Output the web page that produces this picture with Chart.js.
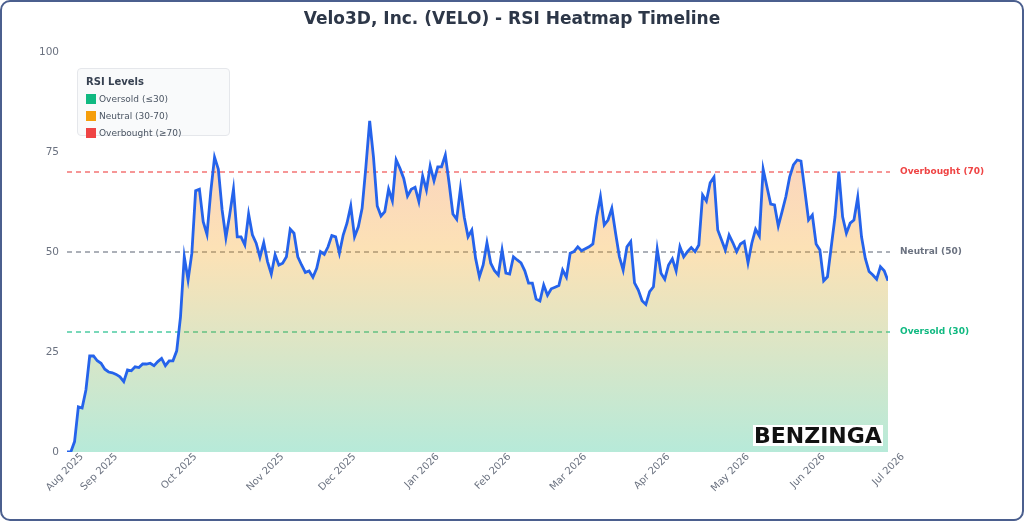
<!DOCTYPE html>
<html>
<head>
<meta charset="utf-8">
<script src="https://cdn.jsdelivr.net/npm/chart.js@4.4.1/dist/chart.umd.min.js"></script>
<style>
  html, body { margin: 0; padding: 0; background: #fff; }
  #frame {
    position: absolute; left: 0; top: 0; width: 1024px; height: 521px;
    box-sizing: border-box; border: 2px solid #4b5f8e; border-radius: 10px;
    pointer-events: none;
  }
  #wrap { position: absolute; left: 0; top: 0; width: 1024px; height: 521px; }
  #rsiLegend {
    position: absolute; left: 77px; top: 68px; width: 153px; height: 68px;
    box-sizing: border-box; background: #f9fafb; border: 1px solid #e5e7eb;
    border-radius: 4px; font-family: "DejaVu Sans", sans-serif;
  }
  #rsiLegend .ttl { position: absolute; left: 8px; top: 7px; font-size: 10px; font-weight: bold; color: #374151; }
  #rsiLegend .item { position: absolute; left: 8px; font-size: 9px; color: #4b5563; line-height: 10px; white-space: nowrap; }
  #rsiLegend .sw { display: inline-block; width: 10px; height: 10px; vertical-align: top; margin-right: 3px; }
  #logo {
    position: absolute; left: 753px; top: 425px; background: #fff;
    font-family: "DejaVu Sans", sans-serif; font-weight: bold; font-size: 22px;
    line-height: 21px; color: #111; padding: 0 1px; letter-spacing: 0px;
  }
</style>
</head>
<body>
<div id="wrap"><canvas id="rsiChart" width="1024" height="521"></canvas></div>
<div id="rsiLegend">
  <div class="ttl">RSI Levels</div>
  <div class="item" style="top:25px"><span class="sw" style="background:#10b981"></span>Oversold (≤30)</div>
  <div class="item" style="top:42px"><span class="sw" style="background:#f59e0b"></span>Neutral (30-70)</div>
  <div class="item" style="top:59px"><span class="sw" style="background:#ef4444"></span>Overbought (≥70)</div>
</div>
<div id="logo">BENZINGA</div>
<div id="frame"></div>
<script>
// RSI per trading day, Aug 2025 -> Jul 2026
const rsiValues = [
  0, 0, 2.6, 11.3, 11, 15.5, 24, 24, 22.8, 22.2, 20.7, 20, 19.8, 19.4, 18.8, 17.6, 20.5, 20.3, 21.3, 21.1,
  22, 22, 22.2, 21.6, 22.6, 23.4, 21.6, 22.8, 22.8, 25.3, 33.8, 48.8, 43, 49.7, 65.3, 65.7, 57.6, 54.4, 65.1, 73.7,
  70.7, 60.5, 53.6, 59.3, 65.7, 53.8, 53.8, 51.8, 59.5, 54.3, 52.2, 48.7, 52.3, 47.6, 44.5, 49.3, 46.75,
  47.2, 48.8, 55.7, 54.7, 48.8, 46.75, 44.9, 45.25, 43.7, 45.9, 50.1, 49.4, 51.3, 54.1, 53.8, 49.7, 54.25, 57.2,
  61.5, 53.8, 56.3, 60.9, 71.3, 82.8, 73.8, 61.5, 59, 60.1, 65.7, 62.8, 73, 70.9, 68.4, 64, 65.7, 66.2, 62.6, 69,
  65.5, 71.5, 67.8, 71.3, 71.3, 74.25, 67.2, 59.5, 58.2, 65.9, 58.7, 53.8, 55.5, 48.4, 43.8,
  46.75, 52.3, 47.2, 45.3, 44.25, 50.5, 44.7, 44.5, 48.8, 48, 47.3, 45.3, 42.2, 42.2, 38.25, 37.75, 41.75, 39.2,
  40.8, 41.2, 41.6, 45.5, 43.7, 49.7, 50.1, 51.3, 50.3, 50.8, 51.3, 52, 58.8, 63.8, 56.75, 58, 60.9, 54.7, 48.8,
  45.5, 51.3, 52.6, 42.3, 40.5, 37.8, 36.9, 40.1, 41.3, 50.7, 44.7, 43.2, 46.75, 48.3, 45.3, 51.3,
  48.8, 50.1, 51.1, 50.1, 51.75, 64.25, 62.75, 67.3, 68.7, 55.5, 53, 50.5, 54.25, 52.3, 50.1, 52, 52.6, 47.3,
  52.2, 55.7, 54, 70.7, 66.3, 62, 61.75, 56.5, 60.1, 63.8, 68.7, 71.75, 73, 72.75, 65.5, 58, 59.25, 52, 50.5,
  42.8, 43.8, 51.3, 58.8, 70.1, 58.8, 54.7, 57.2, 58, 63.7, 53.8, 48.4, 45.1, 44.25, 43.2, 46.3, 45.3, 42.8
];

// index of first trading day of each month
const monthTickIdx = [0, 9, 30, 53, 72, 94, 113, 133, 155, 176, 196, 217];
const monthLabels = ["Aug 2025", "Sep 2025", "Oct 2025", "Nov 2025", "Dec 2025", "Jan 2026",
  "Feb 2026", "Mar 2026", "Apr 2026", "May 2026", "Jun 2026", "Jul 2026"];

const yTicks = [0, 25, 50, 75, 100];

const refLevels = [70, 50, 30];
const refNames = ["Overbought (70)", "Neutral (50)", "Oversold (30)"];
const refColors = ["#ef4444", "#6b7280", "#10b981"];
const refLineColors = ["rgba(239,68,68,0.75)", "rgba(107,114,128,0.75)", "rgba(16,185,129,0.75)"];

Chart.defaults.font.family = '"DejaVu Sans", sans-serif';

const refLinesPlugin = {
  id: "refLines",
  beforeDatasetsDraw(chart) {
    const { ctx, chartArea } = chart;
    const y = chart.scales.y;
    ctx.save();
    refLevels.forEach((lvl, i) => {
      const py = y.getPixelForValue(lvl);
      ctx.beginPath();
      ctx.setLineDash([5, 4]);
      ctx.lineWidth = 1.5;
      ctx.strokeStyle = refLineColors[i];
      ctx.moveTo(chartArea.left, py);
      ctx.lineTo(chartArea.right + 2, py);
      ctx.stroke();
    });
    ctx.restore();
  },
  afterDraw(chart) {
    const { ctx, chartArea } = chart;
    const y = chart.scales.y;
    ctx.save();
    ctx.font = 'bold 9px "DejaVu Sans", sans-serif';
    ctx.textAlign = "left";
    ctx.textBaseline = "middle";
    refLevels.forEach((lvl, i) => {
      ctx.fillStyle = refColors[i];
      ctx.fillText(refNames[i], chartArea.right + 12, y.getPixelForValue(lvl));
    });
    ctx.restore();
  }
};

const chartEl = document.getElementById("rsiChart");
const rsiChart = new Chart(chartEl, {
  type: "line",
  data: {
    datasets: [
      {
        label: "RSI",
        data: rsiValues.map((v, i) => ({ x: i, y: v })),
        borderColor: "#2563eb",
        borderWidth: 2.8,
        pointRadius: 0,
        tension: 0,
        fill: "origin",
        backgroundColor: (c) => {
          const area = c.chart.chartArea;
          if (!area) return "rgba(245,158,11,0.3)";
          const g = c.chart.ctx.createLinearGradient(0, area.bottom, 0, area.top);
          g.addColorStop(0, "rgba(16,185,129,0.3)");
          g.addColorStop(0.5, "rgba(245,158,11,0.3)");
          g.addColorStop(1, "rgba(239,68,68,0.3)");
          return g;
        },
      },
    ],
  },
  options: {
    responsive: false,
    animation: false,
    layout: { padding: { top: 7, right: 0, bottom: 0, left: 0 } },
    plugins: {
      legend: { display: false },
      tooltip: { enabled: false },
      title: {
        display: true,
        text: "Velo3D, Inc. (VELO) - RSI Heatmap Timeline",
        color: "#2d3748",
        font: { size: 17, weight: "bold" },
        padding: { top: 2, bottom: 22.6 },
      },
    },
    scales: {
      x: {
        type: "linear",
        min: 0,
        max: rsiValues.length - 1,
        grid: { display: false, drawTicks: false },
        border: { display: false },
        afterBuildTicks: (s) => { s.ticks = monthTickIdx.map((v) => ({ value: v })); },
        afterFit: (s) => { s.height = 69; },
        ticks: {
          autoSkip: false,
          minRotation: 45,
          maxRotation: 45,
          labelOffset: 15,
          padding: -1,
          color: "#6b7280",
          font: { size: 10 },
          callback: (v) => monthLabels[monthTickIdx.indexOf(v)],
        },
      },
      y: {
        min: 0,
        max: 100,
        grid: { display: false },
        border: { display: false },
        afterBuildTicks: (s) => { s.ticks = yTicks.map((v) => ({ value: v })); },
        afterFit: (s) => { s.width = 67; },
        ticks: { color: "#6b7280", font: { size: 10.5 }, padding: 0 },
      },
      side: {
        type: "linear",
        position: "right",
        grid: { display: false },
        border: { display: false },
        ticks: { display: false },
        afterFit: (s) => { s.width = 136; },
      },
    },
  },
  plugins: [refLinesPlugin],
});
</script>
</body>
</html>
